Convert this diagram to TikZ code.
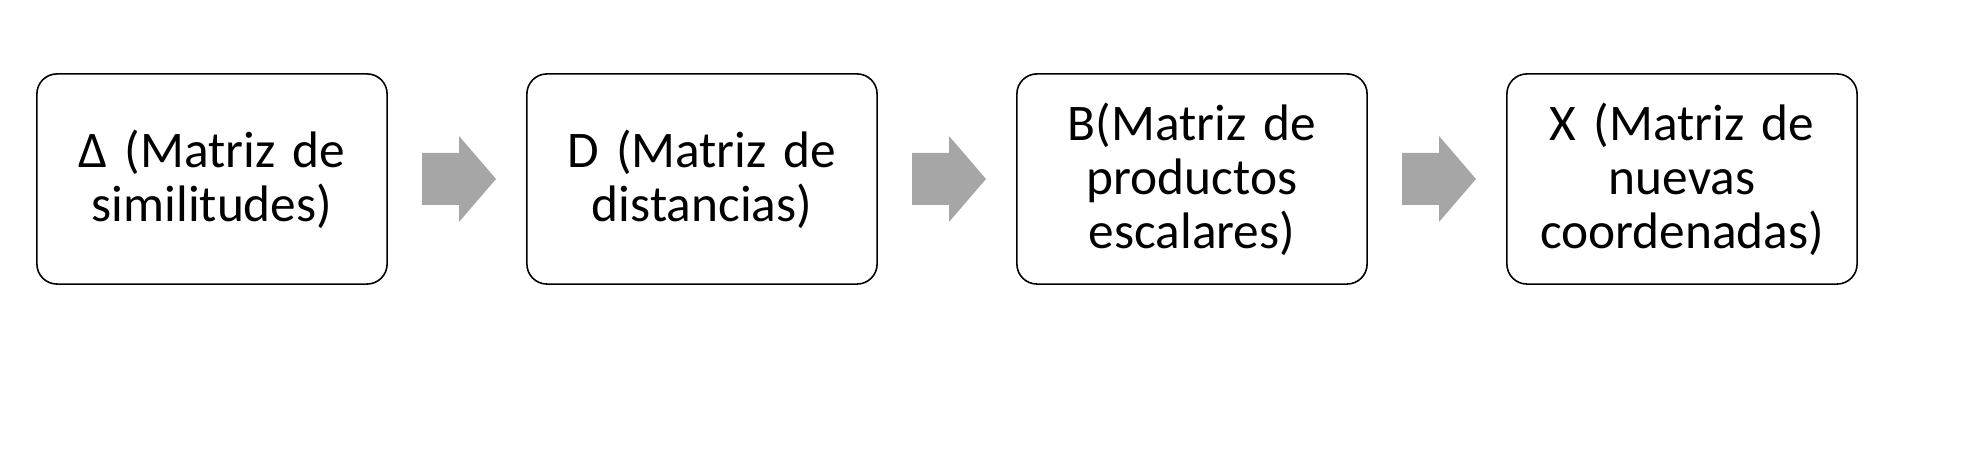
\documentclass[tikz,border=0pt]{standalone}
\usepackage{fontspec}
\setmainfont{Carlito}
\usetikzlibrary{calc}
\definecolor{arrowgray}{HTML}{A6A6A6}
\tikzset{
  stepbox/.style={draw=black, line width=0.45pt, rounded corners=0.2cm, fill=white,
    minimum width=3.5cm, minimum height=2.1cm, inner sep=0pt,
    text width=3.3cm, align=center, font=\fontsize{14.6}{15.4}\selectfont},
  blockarrow/.style={fill=arrowgray, draw=none}
}
\begin{document}
\begin{tikzpicture}[x=0.01cm, y=-0.01cm]
\useasboundingbox (0,0) rectangle (1974,462);
\node[stepbox] (b1) at (212,179) {Δ (Matriz de\\similitudes)};
\node[stepbox] (b2) at (702,179) {D (Matriz de\\distancias)};
\node[stepbox] (b3) at (1192,179) {B(Matriz de\\productos\\escalares)};
\node[stepbox] (b4) at (1682,179) {X (Matriz de\\nuevas\\coordenadas)};
\foreach \a/\b in {b1/b2, b2/b3, b3/b4}{
  \coordinate (m) at ($(\a.east)!0.5!(\b.west)$);
  \fill[blockarrow] ($(m)+(-35,-26)$) -- ($(m)+(2,-26)$) -- ($(m)+(2,-43)$)
    -- ($(m)+(39,0)$) -- ($(m)+(2,43)$) -- ($(m)+(2,26)$) -- ($(m)+(-35,26)$) -- cycle;
}
\end{tikzpicture}
\end{document}
